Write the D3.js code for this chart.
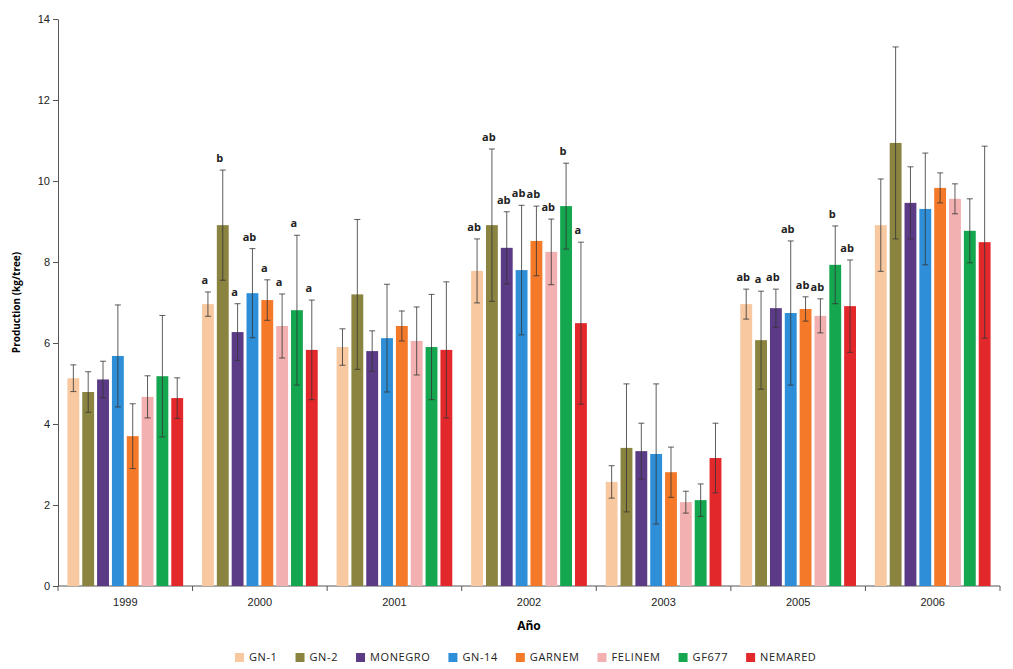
<!DOCTYPE html>
<html>
<head>
<meta charset="utf-8">
<script src="https://cdn.jsdelivr.net/npm/d3@7"></script>
<style>
  body { margin: 0; background: #fff; font-family: "Open Sans", "DejaVu Sans", sans-serif; }
  .axis text { font-size: 11px; fill: #222; }
  .axis path, .axis line { stroke: #555; }
</style>
</head>
<body>
<script>
// data
var years = ["1999", "2000", "2001", "2002", "2003", "2005", "2006"];
var series = ["GN-1", "GN-2", "MONEGRO", "GN-14", "GARNEM", "FELINEM", "GF677", "NEMARED"];
var colors = ["#f8c8a0", "#8a8440", "#5b3a86", "#2e8fd8", "#f47a2a", "#f2b0b0", "#15a650", "#e3282c"];
// values[year][series]
var values = [
  [5.13, 4.79, 5.10, 5.68, 3.70, 4.67, 5.18, 4.64],
  [6.96, 8.91, 6.27, 7.23, 7.06, 6.42, 6.81, 5.83],
  [5.90, 7.20, 5.80, 6.12, 6.42, 6.05, 5.90, 5.83],
  [7.78, 8.91, 8.35, 7.80, 8.52, 8.25, 9.38, 6.49],
  [2.57, 3.41, 3.33, 3.26, 2.81, 2.07, 2.12, 3.16],
  [6.96, 6.07, 6.86, 6.74, 6.84, 6.67, 7.93, 6.91],
  [8.91, 10.94, 9.46, 9.31, 9.83, 9.56, 8.77, 8.49]
];
var errors = [
  [0.33, 0.50, 0.45, 1.26, 0.80, 0.52, 1.50, 0.50],
  [0.30, 1.36, 0.70, 1.10, 0.50, 0.79, 1.85, 1.23],
  [0.45, 1.85, 0.50, 1.33, 0.37, 0.84, 1.30, 1.68],
  [0.79, 1.88, 0.89, 1.60, 0.86, 0.81, 1.06, 2.00],
  [0.40, 1.58, 0.69, 1.73, 0.62, 0.27, 0.40, 0.86],
  [0.37, 1.21, 0.47, 1.78, 0.30, 0.42, 0.96, 1.14],
  [1.14, 2.37, 0.89, 1.38, 0.37, 0.37, 0.79, 2.37]
];
var letters = {
  "2000": ["a", "b", "a", "ab", "a", "a", "a", "a"],
  "2002": ["ab", "ab", "ab", "ab", "ab", "ab", "b", "a"],
  "2005": ["ab", "a", "ab", "ab", "ab", "ab", "b", "ab"]
};
var yTicks = [0, 2, 4, 6, 8, 10, 12, 14];

var W = 1013, H = 669;
var mLeft = 58, mRight = 1000, mTop = 19, mBottom = 586;

var svg = d3.select("body").append("svg").attr("width", W).attr("height", H);

var x0 = d3.scaleBand().domain(years).range([mLeft, mRight]).paddingInner(0.14).paddingOuter(0.07);
var x1 = d3.scaleBand().domain(series).range([0, x0.bandwidth()]).paddingInner(0.2);
var y = d3.scaleLinear().domain([0, 14]).range([mBottom, mTop]);

svg.append("g").attr("class", "axis")
  .attr("transform", "translate(" + mLeft + ",0)")
  .call(d3.axisLeft(y).tickValues(yTicks).tickSize(5).tickSizeOuter(0));

var xa = svg.append("g").attr("class", "axis")
  .attr("transform", "translate(0," + mBottom + ")")
  .call(d3.axisBottom(x0).tickSize(0).tickPadding(12));
xa.select(".domain").attr("d", "M" + mLeft + ",0H" + mRight);
// group separators
var step = x0.step();
years.forEach(function(yr, i) {
  var xs = i === 0 ? mLeft : x0(yr) - x0.paddingInner() * step / 2;
  xa.append("line").attr("x1", xs).attr("x2", xs).attr("y1", 0).attr("y2", 5).attr("stroke", "#555");
});
xa.append("line").attr("x1", mRight).attr("x2", mRight).attr("y1", 0).attr("y2", 5).attr("stroke", "#555");

var g = svg.selectAll(".grp").data(years).enter().append("g")
  .attr("transform", function(d) { return "translate(" + x0(d) + ",0)"; });

g.each(function(yr, i) {
  var gg = d3.select(this);
  series.forEach(function(s, j) {
    var v = values[i][j], e = errors[i][j];
    var bx = x1(s), bw = x1.bandwidth(), cx = bx + bw / 2;
    gg.append("rect").attr("x", bx).attr("y", y(v)).attr("width", bw)
      .attr("height", y(0) - y(v)).attr("fill", colors[j]);
    gg.append("line").attr("x1", cx).attr("x2", cx).attr("y1", y(v - e)).attr("y2", y(v + e))
      .attr("stroke", "#333").attr("stroke-width", 0.8);
    [v - e, v + e].forEach(function(t) {
      gg.append("line").attr("x1", cx - 3).attr("x2", cx + 3).attr("y1", y(t)).attr("y2", y(t))
        .attr("stroke", "#333").attr("stroke-width", 0.8);
    });
    if (letters[yr]) {
      gg.append("text").attr("x", cx - 3).attr("y", y(v + e) - 8)
        .attr("text-anchor", "middle").attr("font-size", 11).attr("font-weight", "bold")
        .attr("fill", "#222").text(letters[yr][j]);
    }
  });
});

svg.append("text").attr("transform", "translate(20," + ((mTop + mBottom) / 2) + ") rotate(-90)")
  .attr("text-anchor", "middle").attr("font-size", 10).attr("font-weight", "bold").text("Production (kg/tree)");
svg.append("text").attr("x", (mLeft + mRight) / 2).attr("y", 630)
  .attr("text-anchor", "middle").attr("font-size", 12).attr("font-weight", "bold").text("Año");

// legend
var lg = svg.append("g").attr("transform", "translate(235,661)");
var lx = 0;
series.forEach(function(s, j) {
  var it = lg.append("g").attr("transform", "translate(" + lx + ",0)");
  it.append("rect").attr("x", 0).attr("y", -8).attr("width", 9).attr("height", 9).attr("fill", colors[j]);
  var t = it.append("text").attr("x", 14).attr("y", 0).attr("font-size", 11).attr("letter-spacing", 0.6)
    .attr("fill", "#222").text(s);
  lx += 14 + t.node().getComputedTextLength() + 18;
});
</script>
</body>
</html>
